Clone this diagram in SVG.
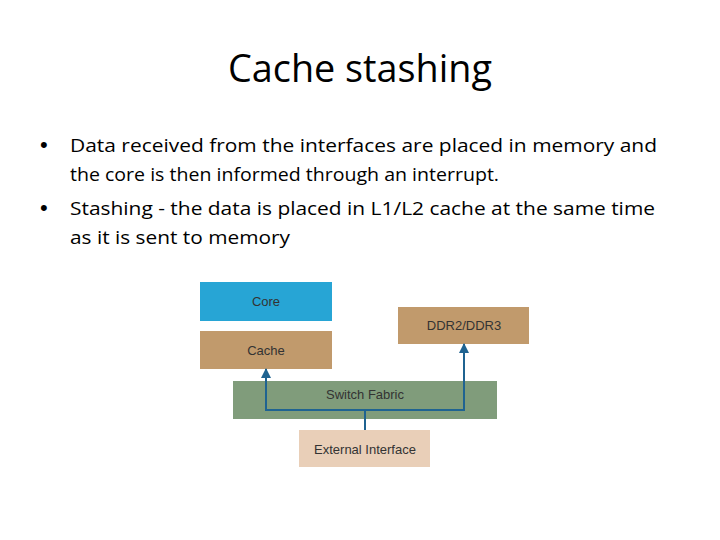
<svg xmlns="http://www.w3.org/2000/svg" width="720" height="540" viewBox="0 0 720 540">
<defs>
<style>
.title{font-family:"Open Sans","Liberation Sans",sans-serif;font-size:38px;fill:#000;}
.body{font-family:"Open Sans","Liberation Sans",sans-serif;font-size:19px;fill:#000;}
.bul{font-family:"Liberation Sans",Arial,sans-serif;font-size:22px;fill:#000;}
.lbl{font-family:"Liberation Sans",Arial,sans-serif;font-size:13px;fill:#333;text-anchor:middle;}
.conn{fill:none;stroke:#1f6391;stroke-width:2;}
</style>
<marker id="ah" viewBox="0 0 10 10" refX="9" refY="5" markerWidth="5" markerHeight="5" orient="auto">
<path d="M0,0 L10,5 L0,10 z" fill="#1f6391"/>
</marker>
</defs>
<rect width="720" height="540" fill="#fff"/>
<text class="title" x="360" y="82" text-anchor="middle" textLength="264" lengthAdjust="spacingAndGlyphs">Cache stashing</text>
<g id="bullets">
<text class="bul" x="40" y="152">•</text>
<text class="body" x="70" y="152" textLength="587" lengthAdjust="spacingAndGlyphs">Data received from the interfaces are placed in memory and</text>
<text class="body" x="70" y="181" textLength="429" lengthAdjust="spacingAndGlyphs">the core is then informed through an interrupt.</text>
<text class="bul" x="40" y="215">•</text>
<text class="body" x="70" y="215" textLength="585" lengthAdjust="spacingAndGlyphs">Stashing - the data is placed in L1/L2 cache at the same time</text>
<text class="body" x="70" y="244" textLength="220" lengthAdjust="spacingAndGlyphs">as it is sent to memory</text>
</g>
<g id="core"><rect x="200" y="282" width="132" height="39" fill="#27a5d5"/><text class="lbl" x="266" y="306">Core</text></g>
<g id="cache"><rect x="200" y="331" width="132" height="38" fill="#c19a6c"/><text class="lbl" x="266" y="355">Cache</text></g>
<g id="ddr"><rect x="398" y="307" width="131" height="37" fill="#c19a6c"/><text class="lbl" x="464" y="330">DDR2/DDR3</text></g>
<g id="switch"><rect x="233" y="381" width="264" height="38" fill="#809c7b"/><text class="lbl" x="365" y="399">Switch Fabric</text></g>
<g id="external"><rect x="299" y="430" width="131" height="37" fill="#e9cfb8"/><text class="lbl" x="365" y="454">External Interface</text></g>
<g id="connectors">
<path class="conn" d="M365,430 V410"/>
<path class="conn" d="M365,410 H266 V369" marker-end="url(#ah)"/>
<path class="conn" d="M365,410 H464 V344" marker-end="url(#ah)"/>
</g>
</svg>
